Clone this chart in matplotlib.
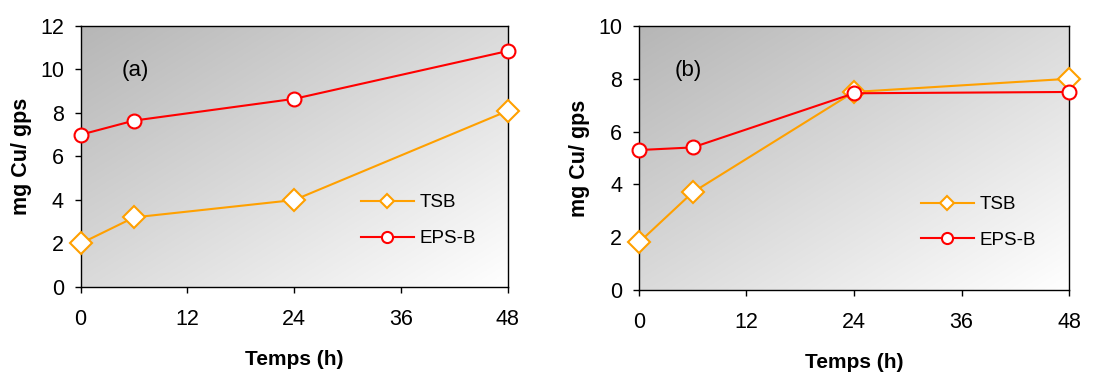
import numpy as np
import matplotlib
matplotlib.use("Agg")
import matplotlib.pyplot as plt
from matplotlib.colors import LinearSegmentedColormap
from matplotlib.lines import Line2D

plt.rcParams['font.family'] = ['Liberation Sans', 'DejaVu Sans']

hours = [0, 6, 24, 48]
tsb_a = [2.0, 3.2, 4.0, 8.1]
eps_a = [7.0, 7.65, 8.65, 10.85]
tsb_b = [1.8, 3.7, 7.5, 8.0]
eps_b = [5.3, 5.4, 7.45, 7.5]
xticks = [0, 12, 24, 36, 48]
labels = ["TSB", "EPS-B"]
panels = ["(a)", "(b)"]
ylims = [12, 10]

ORANGE = "#FFA000"
RED = "#FF0000"

fig = plt.figure(figsize=(11.2, 3.74), dpi=100)
axes = [fig.add_axes([0.072, 0.2326, 0.3815, 0.698]),
        fig.add_axes([0.5705, 0.2246, 0.384, 0.706])]

cmap = LinearSegmentedColormap.from_list("g", ["#b6b6b6", "#ffffff"])
yy, xx = np.mgrid[0:1:200j, 0:1:200j]
grad = (xx + yy) / 2.0

data = [(tsb_a, eps_a), (tsb_b, eps_b)]
for i, ax in enumerate(axes):
    ax.imshow(grad, extent=[0, 1, 0, 1], transform=ax.transAxes, cmap=cmap,
              aspect='auto', origin='upper', zorder=0, interpolation='bilinear')
    tsb, eps = data[i]
    ax.plot(hours, tsb, color=ORANGE, lw=1.5, marker='D', ms=11, mfc='white',
            mec=ORANGE, mew=1.5, label=labels[0], zorder=3, clip_on=False)
    ax.plot(hours, eps, color=RED, lw=1.5, marker='o', ms=10, mfc='white',
            mec=RED, mew=1.5, label=labels[1], zorder=4, clip_on=False)
    ax.set_xlim(0, 48)
    ax.set_ylim(0, ylims[i])
    ax.set_xticks(xticks)
    ax.set_yticks(range(0, ylims[i] + 1, 2))
    ax.tick_params(axis='both', labelsize=15.5, direction='out', length=4, width=1, color='black')
    ax.tick_params(axis='x', pad=12)
    ax.tick_params(axis='y', pad=8)
    for s in ax.spines.values():
        s.set_linewidth(1.0)
        s.set_color('black')
    ax.set_xlabel("Temps (h)", fontsize=15, fontweight='bold', labelpad=14)
    ax.set_ylabel("mg Cu/ gps", fontsize=15.5, fontweight='bold', labelpad=6)
    ax.text(0.095 if i == 0 else 0.084, 0.83, panels[i], transform=ax.transAxes,
            fontsize=16, ha='left', va='center')
    h = [Line2D([], [], color=ORANGE, lw=1.5, marker='D', ms=7, mfc='white', mec=ORANGE, mew=1.5),
         Line2D([], [], color=RED, lw=1.5, marker='o', ms=8, mfc='white', mec=RED, mew=1.5)]
    ax.legend(h, labels, loc='upper left', bbox_to_anchor=(0.617, 0.42), frameon=False,
              fontsize=13.5, handlelength=2.8, labelspacing=1.0, handletextpad=0.3)

fig.savefig("out.png", dpi=100)
